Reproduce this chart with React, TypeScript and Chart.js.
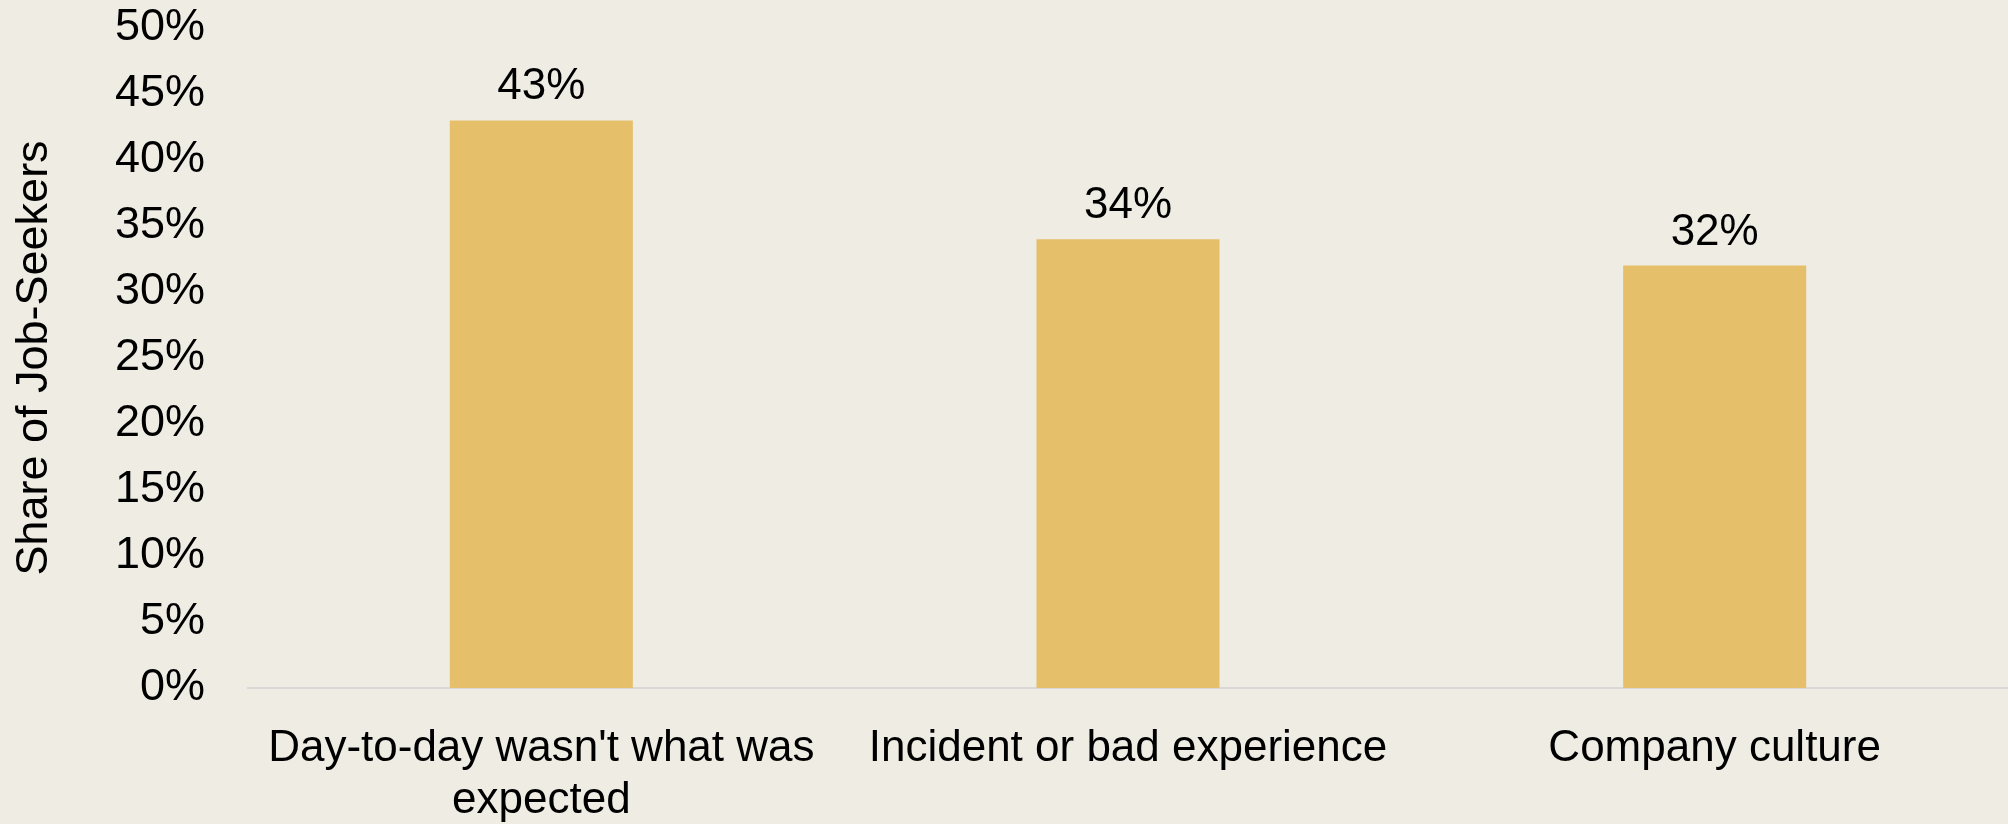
import React, { useEffect, useRef } from "react";
import { Chart, registerables } from "chart.js";

Chart.register(...registerables);

const categories: (string | string[])[] = [
  ["Day-to-day wasn't what was", "expected"],
  "Incident or bad experience",
  "Company culture",
];
const shares = [43, 34, 32];
const yMin = 0;
const yMax = 50;
const yStep = 5;
const yTitle = "Share of Job-Seekers";

const BG = "#EFECE4";
const BAR = "#E5BF6A";
const FONT = "'Liberation Sans', Arial, sans-serif";

export default function App() {
  const ref = useRef<HTMLCanvasElement | null>(null);

  useEffect(() => {
    document.body.style.margin = "0";
    document.body.style.background = BG;
    const canvas = ref.current;
    if (!canvas) return;

    const bgPlugin = {
      id: "bg",
      beforeDraw(chart: any) {
        const { ctx, width, height } = chart;
        ctx.save();
        ctx.fillStyle = BG;
        ctx.fillRect(0, 0, width, height);
        ctx.restore();
      },
    };

    const labelPlugin = {
      id: "barLabels",
      afterDatasetsDraw(chart: any) {
        const { ctx } = chart;
        const meta = chart.getDatasetMeta(0);
        ctx.save();
        ctx.fillStyle = "#000000";
        ctx.font = `44px ${FONT}`;
        ctx.textAlign = "center";
        ctx.textBaseline = "alphabetic";
        meta.data.forEach((el: any, i: number) => {
          ctx.fillText(`${shares[i]}%`, el.x, el.y - 21);
        });
        ctx.restore();
      },
    };

    const chart = new Chart(canvas, {
      type: "bar",
      data: {
        labels: categories,
        datasets: [
          {
            data: shares,
            backgroundColor: BAR,
            borderWidth: 0,
            barPercentage: 1,
            categoryPercentage: 0.312,
          },
        ],
      },
      options: {
        animation: false,
        responsive: false,
        maintainAspectRatio: false,
        layout: { autoPadding: false, padding: { top: 28, left: 0, right: 0, bottom: 0 } },
        plugins: {
          legend: { display: false },
          tooltip: { enabled: false },
        },
        scales: {
          x: {
            grid: { display: false, drawTicks: false },
            border: { display: true, color: "#D9D9D9", width: 2 },
            ticks: {
              color: "#000000",
              font: { family: FONT, size: 44, lineHeight: 1.2 },
              padding: 34,
              maxRotation: 0,
              autoSkip: false,
            },
            afterFit(scale: any) {
              scale.height = 136;
            },
          },
          y: {
            min: yMin,
            max: yMax,
            grid: { display: false, drawTicks: false },
            border: { display: false },
            ticks: {
              stepSize: yStep,
              color: "#000000",
              font: { family: FONT, size: 45 },
              padding: 43,
              callback: (v: any) => `${v}%`,
            },
            title: {
              display: true,
              text: yTitle,
              color: "#000000",
              font: { family: FONT, size: 45 },
              padding: { top: 8, bottom: 0 },
            },
            afterFit(scale: any) {
              scale.width = 248;
              scale.paddingTop = 0;
              scale.paddingBottom = 0;
            },
          },
        },
      },
      plugins: [bgPlugin, labelPlugin],
    });

    return () => chart.destroy();
  }, []);

  return (
    <div style={{ position: "fixed", left: 0, top: 0, width: 2008, height: 824, background: BG }}>
      <canvas ref={ref} width={2008} height={824} style={{ width: 2008, height: 824, display: "block" }} />
    </div>
  );
}
